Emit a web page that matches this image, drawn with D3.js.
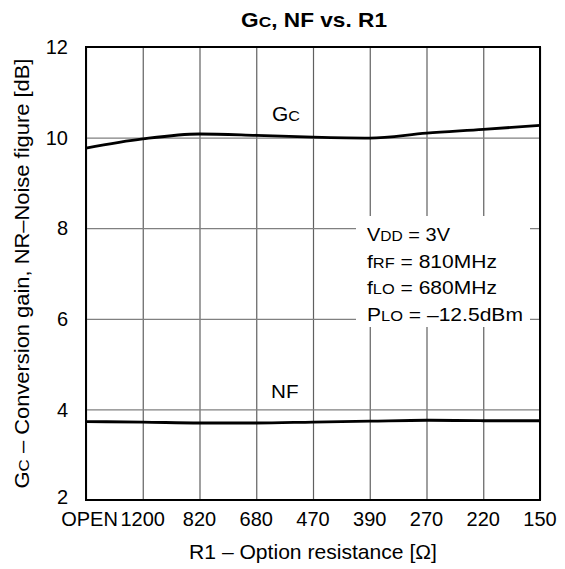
<!DOCTYPE html>
<html>
<head>
<meta charset="utf-8">
<script src="https://cdn.jsdelivr.net/npm/d3@7"></script>
<style>
  body { margin: 0; background: #fff; }
  text { font-family: "Liberation Sans", Arial, sans-serif; fill: #000; }
</style>
</head>
<body>
<div id="chart-area"></div>
<script>
// categories along x (resistor values)
var categories = ["OPEN", "1200", "820", "680", "470", "390", "270", "220", "150"];
// conversion gain Gc [dB]
var gcValues = [9.77, 9.97, 10.08, 10.05, 10.01, 9.99, 10.10, 10.18, 10.27];
// noise figure NF [dB]
var nfValues = [3.73, 3.72, 3.70, 3.70, 3.72, 3.74, 3.76, 3.75, 3.75];
var yTicks = [2, 4, 6, 8, 10, 12];

var margins = { left: 86, right: 25, top: 47, bottom: 69 };
var width = 565 - margins.left - margins.right;   // 454
var height = 569 - margins.top - margins.bottom;  // 453

// the source lettering is wider than Arial: stretch a text sideways to a wanted width
function placeText(parent, tx, ty, rot, anchor, size, target) {
  var t = parent.append("text")
      .attr("text-anchor", anchor)
      .style("font-size", size + "px");
  t.fit = function() {
    var k = target ? target / t.node().getComputedTextLength() : 1;
    t.attr("transform", "translate(" + tx + "," + ty + ")" + (rot ? " rotate(" + rot + ")" : "") + " scale(" + k + ",1)");
    return t;
  };
  return t;
}

var svg = d3.select("#chart-area")
    .append("svg")
    .attr("width", 565)
    .attr("height", 569);

var g = svg.append("g")
    .attr("transform", "translate(" + margins.left + ", " + margins.top + ")");

var x = d3.scalePoint()
    .domain(categories)
    .range([0, width]);

var y = d3.scaleLinear()
    .domain([2, 12])
    .range([height, 0]);

// grid lines
var xGrid = g.append("g")
    .attr("transform", "translate(0," + height + ")")
    .call(d3.axisBottom(x).tickSize(-height).tickFormat(""));
xGrid.select(".domain").remove();
xGrid.selectAll("line").attr("stroke", "#606060").attr("stroke-width", 1.2);

var yGrid = g.append("g")
    .call(d3.axisLeft(y).tickValues(yTicks).tickSize(-width).tickFormat(""));
yGrid.select(".domain").remove();
yGrid.selectAll("line").attr("stroke", "#808080").attr("stroke-width", 1.2);

// x tick labels
g.append("g")
  .selectAll("text")
  .data(categories)
  .enter()
  .append("text")
    .attr("x", function(d, i) { return x(d) + (i === 0 ? 3.5 : 0); })
    .attr("y", height + 26)
    .attr("text-anchor", "middle")
    .style("font-size", "20px")
    .text(function(d) { return d; });

// y tick labels
g.append("g")
  .selectAll("text")
  .data(yTicks)
  .enter()
  .append("text")
    .attr("x", -18)
    .attr("y", function(d) { return y(d) + (d === 2 ? -3.5 : 0); })
    .attr("dy", "0.36em")
    .attr("text-anchor", "end")
    .style("font-size", "20px")
    .text(function(d) { return d; });

// annotation box (white background interrupts the grid)
var note = g.append("g").attr("transform", "translate(" + (356 - margins.left) + "," + (216 - margins.top) + ")");
note.append("rect")
    .attr("width", 174)
    .attr("height", 111)
    .attr("fill", "#fff");

var noteLines = [
  [["V", 1], ["DD", 0.78], [" = 3V", 1]],
  [["f", 1], ["RF", 0.78], [" = 810MHz", 1]],
  [["f", 1], ["LO", 0.78], [" = 680MHz", 1]],
  [["P", 1], ["LO", 0.78], [" = \u201312.5dBm", 1]]
];
var noteWidths = [83, 130, 130, 156];
noteLines.forEach(function(parts, i) {
  var t = placeText(note, 11, 25 + i * 26.7, 0, "start", 18.5, noteWidths[i]);
  parts.forEach(function(p) {
    t.append("tspan").style("font-size", (18.5 * p[1]) + "px").text(p[0]);
  });
  t.fit();
});

// curves
var line = d3.line()
    .curve(d3.curveMonotoneX)
    .x(function(d, i) { return x(categories[i]); })
    .y(function(d) { return y(d); });

g.append("path")
    .datum(gcValues)
    .attr("fill", "none")
    .attr("stroke", "#000")
    .attr("stroke-width", 2.8)
    .attr("d", line);

g.append("path")
    .datum(nfValues)
    .attr("fill", "none")
    .attr("stroke", "#000")
    .attr("stroke-width", 2.8)
    .attr("d", line);

// curve labels
var gcLabel = placeText(g, 272 - margins.left, 121 - margins.top, 0, "start", 19.5, 28);
gcLabel.append("tspan").text("G");
gcLabel.append("tspan").style("font-size", "15px").text("C");
gcLabel.fit();

placeText(g, 271 - margins.left, 398 - margins.top, 0, "start", 19, 27.5).text("NF").fit();

// frame
g.append("rect")
    .attr("width", width)
    .attr("height", height)
    .attr("fill", "none")
    .attr("stroke", "#000")
    .attr("stroke-width", 2);

// title
var title = placeText(svg, 314, 27, 0, "middle", 19.5, 146).style("font-weight", "bold");
title.append("tspan").text("G");
title.append("tspan").style("font-size", "15px").text("C");
title.append("tspan").text(", NF vs. R1");
title.fit();

// x axis title
placeText(svg, 313, 559, 0, "middle", 20, 248)
    .text("R1 \u2013 Option resistance [\u03A9]").fit();

// y axis title
var yTitle = placeText(svg, 29, margins.top + height / 2, -90, "middle", 20, 430);
yTitle.append("tspan").text("G");
yTitle.append("tspan").style("font-size", "15.5px").text("C");
yTitle.append("tspan").text(" \u2013 Conversion gain, NR\u2013Noise figure [dB]");
yTitle.fit();
</script>
</body>
</html>
